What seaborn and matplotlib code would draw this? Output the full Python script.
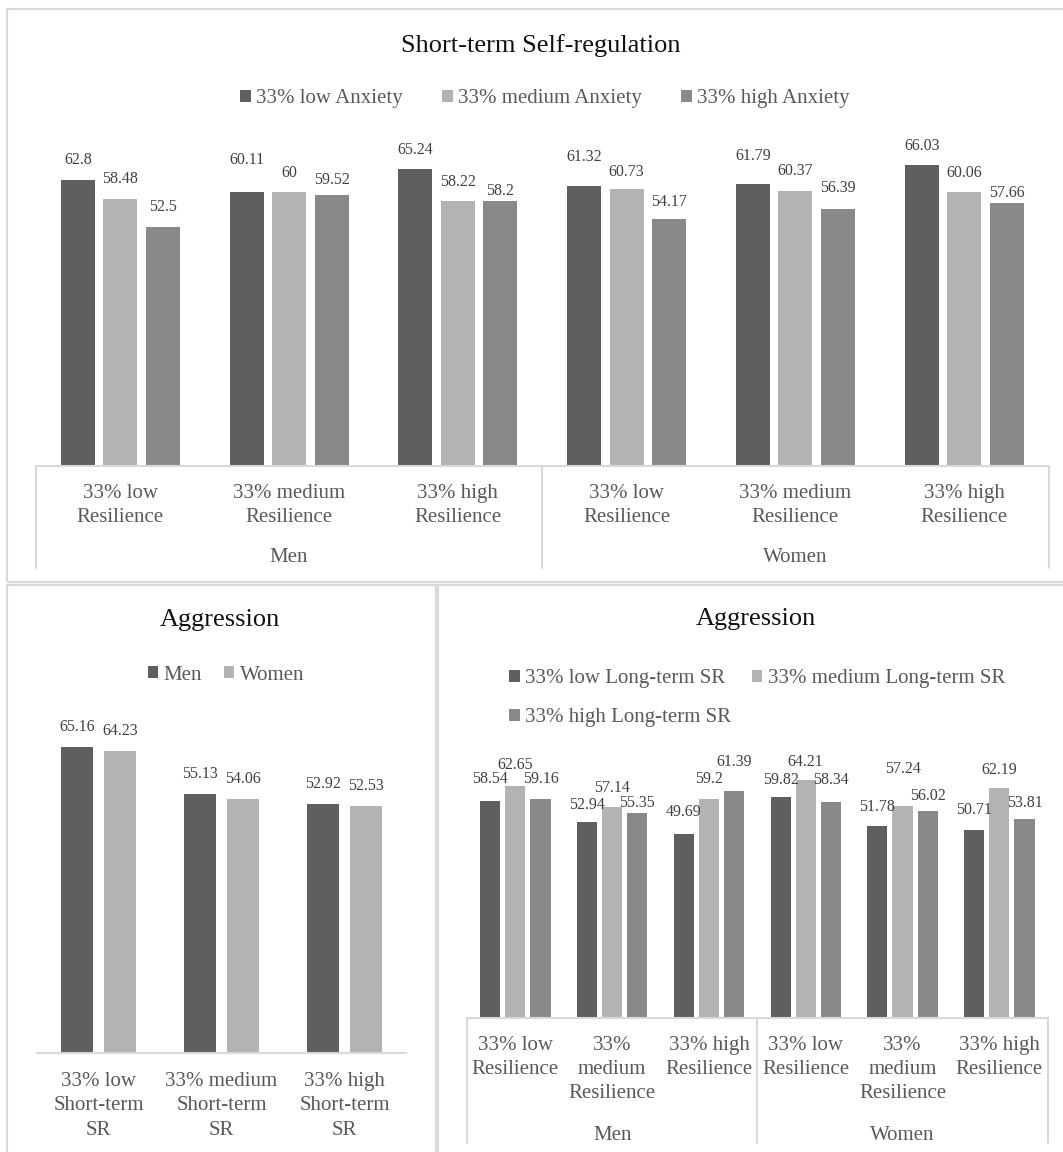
import matplotlib
matplotlib.use("Agg")
import matplotlib.pyplot as plt
from matplotlib.lines import Line2D
from matplotlib.patches import Rectangle
import pandas as pd
import seaborn as sns

# ---- data -------------------------------------------------------------
sex_groups = ["Men", "Women"]

# Short-term self-regulation by resilience and anxiety tertiles
resilience_labels = ["33% low\nResilience", "33% medium\nResilience", "33% high\nResilience"]
anxiety_levels = ["33% low Anxiety", "33% medium Anxiety", "33% high Anxiety"]
sr_low_anxiety = [62.8, 60.11, 65.24, 61.32, 61.79, 66.03]
sr_medium_anxiety = [58.48, 60, 58.22, 60.73, 60.37, 60.06]
sr_high_anxiety = [52.5, 59.52, 58.2, 54.17, 56.39, 57.66]

# Aggression by short-term SR tertile
short_sr_labels = ["33% low\nShort-term\nSR", "33% medium\nShort-term\nSR", "33% high\nShort-term\nSR"]
aggression_men = [65.16, 55.13, 52.92]
aggression_women = [64.23, 54.06, 52.53]

# Aggression by resilience and long-term SR tertiles
resilience_labels_narrow = ["33% low\nResilience", "33%\nmedium\nResilience", "33% high\nResilience"]
long_sr_levels = ["33% low Long-term SR", "33% medium Long-term SR", "33% high Long-term SR"]
ag_low_long_sr = [58.54, 52.94, 49.69, 59.82, 51.78, 50.71]
ag_medium_long_sr = [62.65, 57.14, 59.2, 64.21, 57.24, 62.19]
ag_high_long_sr = [59.16, 55.35, 61.39, 58.34, 56.02, 53.81]

# ---- style ------------------------------------------------------------
sns.set_style("white")
plt.rcParams["font.family"] = ["Liberation Serif", "DejaVu Serif"]

DARK, LIGHT, MID = "#5f5f5f", "#b3b3b3", "#898989"
GRID = "#d9d9d9"
TEXT = "#595959"
VALUE_TEXT = "#404040"
TITLE_TEXT = "#111111"
VALUE_SIZE = 11.5
TICK_LINESPACING = 1.36

# height of each value label's centre above its bar top, in pixels (one row per series)
lift_sr = [[20, 32, 18, 29, 28, 19],
           [20, 19, 18, 17, 20, 19],
           [19, 14, 10, 17, 21, 10]]
lift_short = [[20, 20, 20],
              [20, 20, 20]]
lift_long = [[22, 17, 22, 17, 19, 20],
             [21, 18, 20, 18, 37, 18],
             [20, 10, 29, 22, 15, 16]]

FIG_W, FIG_H = 1063, 1152
fig = plt.figure(figsize=(FIG_W / 100, FIG_H / 100), dpi=100)
fig.patch.set_facecolor("white")


def fx(px):
    return px / FIG_W


def fy(py):
    return 1 - py / FIG_H


def axes_px(left, right, top, bottom):
    return fig.add_axes([fx(left), fy(bottom), (right - left) / FIG_W, (bottom - top) / FIG_H])


def panel_frame(x0, y0, x1, y1):
    fig.add_artist(Rectangle((fx(x0), fy(y1)), (x1 - x0) / FIG_W, (y1 - y0) / FIG_H,
                             transform=fig.transFigure, fill=False, edgecolor=GRID,
                             linewidth=1.6, clip_on=False))


def grouped_frame(groups, cats, levels, series):
    rows = []
    for level, values in zip(levels, series):
        i = 0
        for g in groups:
            for c in cats:
                rows.append({"slot": f"{g}|{c}", "level": level, "value": values[i]})
                i += 1
    order = [f"{g}|{c}" for g in groups for c in cats]
    return pd.DataFrame(rows), order


def label_bars(ax, lifts):
    # the visual centre of a label sits ~7.9 px above its bottom anchor
    for cont, lift in zip(ax.containers, lifts):
        for bar, lp in zip(cont, lift):
            h = bar.get_height()
            ax.annotate(f"{h:g}", xy=(bar.get_x() + bar.get_width() / 2, h),
                        xytext=(0, (lp - 7.9) * 0.72), textcoords="offset points",
                        ha="center", va="bottom", fontsize=VALUE_SIZE, color=VALUE_TEXT,
                        annotation_clip=False)


def draw_bars(ax, df, order, levels, palette, width, gap, ymax, lifts):
    sns.barplot(data=df, x="slot", y="value", hue="level", order=order, hue_order=levels,
                palette=palette, width=width, gap=gap, saturation=1, errorbar=None,
                linewidth=0, ax=ax, legend=True)
    label_bars(ax, lifts)
    ax.set_xlim(-0.5, len(order) - 0.5)
    ax.set_ylim(0, ymax)
    ax.set_yticks([])
    ax.set_xlabel("")
    ax.set_ylabel("")
    for side in ("left", "top", "right"):
        ax.spines[side].set_visible(False)
    ax.spines["bottom"].set_color(GRID)
    ax.spines["bottom"].set_linewidth(1.5)
    ax.set_facecolor("none")
    old = ax.get_legend()
    handles = list(old.legend_handles)
    labels = [t.get_text() for t in old.get_texts()]
    old.remove()
    return handles, labels


def set_ticklabels(ax, labels, pad):
    ax.set_xticks(range(len(labels)))
    ax.set_xticklabels(labels, fontsize=15, color=TEXT)
    for t in ax.get_xticklabels():
        t.set_linespacing(TICK_LINESPACING)
    ax.tick_params(axis="x", length=0, pad=pad)


def group_axis(ax, ax_h, depth_px, label_px, n_per_group):
    trans = ax.get_xaxis_transform()
    for x in [-0.5 + k * n_per_group for k in range(len(sex_groups) + 1)]:
        ax.add_line(Line2D([x, x], [0, -depth_px / ax_h], transform=trans, clip_on=False,
                           color=GRID, linewidth=1.5))
    for k, g in enumerate(sex_groups):
        xc = k * n_per_group + (n_per_group - 1) / 2
        ax.text(xc, -label_px / ax_h, g, transform=trans, ha="center", va="center",
                fontsize=15, color=TEXT)


def place_legend(ax, handles, labels, x, y, loc, ncol, colsp, rowsp=0.75):
    ax.legend(handles, labels, loc=loc, bbox_to_anchor=(fx(x), fy(y)),
              bbox_transform=fig.transFigure, ncol=ncol, frameon=False, fontsize=15,
              labelcolor=TEXT, handlelength=0.5, handleheight=0.5, handletextpad=0.25,
              columnspacing=colsp, borderpad=0, labelspacing=rowsp)


# ---- panel frames -----------------------------------------------------
panel_frame(7, 9, 1075, 582)
panel_frame(7, 585, 435.5, 1170)
panel_frame(437.5, 585, 1075, 1170)

# ---- top: short-term self-regulation ---------------------------------
YMAX = 70
top_base, top_k = 466, 4.56
top_h = YMAX * top_k
ax1 = axes_px(36, 1048.5, top_base - top_h, top_base)
df1, order1 = grouped_frame(sex_groups, resilience_labels, anxiety_levels,
                            [sr_low_anxiety, sr_medium_anxiety, sr_high_anxiety])
h1, l1 = draw_bars(ax1, df1, order1, anxiety_levels, [DARK, LIGHT, MID], 0.755, 0.2, YMAX,
                   lift_sr)
set_ticklabels(ax1, resilience_labels * 2, pad=13)
group_axis(ax1, top_h, 102, 92, 3)
place_legend(ax1, h1, l1, 545, 99, "center", 3, 1.9)
fig.text(fx(541), fy(46), "Short-term Self-regulation", ha="center", va="center",
         fontsize=19, color=TITLE_TEXT)

# ---- bottom left: aggression by short-term SR -------------------------
bl_base, bl_k = 1053, 4.7
bl_h = YMAX * bl_k
ax2 = axes_px(37, 406, bl_base - bl_h, bl_base)
df2 = pd.DataFrame({
    "slot": short_sr_labels * 2,
    "level": [sex_groups[0]] * 3 + [sex_groups[1]] * 3,
    "value": aggression_men + aggression_women,
})
h2, l2 = draw_bars(ax2, df2, short_sr_labels, sex_groups, [DARK, LIGHT], 0.70, 0.26, YMAX,
                   lift_short)
set_ticklabels(ax2, short_sr_labels, pad=14)
place_legend(ax2, h2, l2, 226, 675, "center", 2, 1.05)
fig.text(fx(220), fy(620), "Aggression", ha="center", va="center",
         fontsize=19, color=TITLE_TEXT)

# ---- bottom right: aggression by resilience and long-term SR ----------
br_base, br_k = 1018, 3.7
br_h = YMAX * br_k
ax3 = axes_px(467, 1047.7, br_base - br_h, br_base)
df3, order3 = grouped_frame(sex_groups, resilience_labels_narrow, long_sr_levels,
                            [ag_low_long_sr, ag_medium_long_sr, ag_high_long_sr])
h3, l3 = draw_bars(ax3, df3, order3, long_sr_levels, [DARK, LIGHT, MID], 0.78, 0.2, YMAX,
                   lift_long)
set_ticklabels(ax3, resilience_labels_narrow * 2, pad=13)
group_axis(ax3, br_h, 125, 117, 3)
# row-major order: low, medium on the first row, high on the second
place_legend(ax3, [h3[0], h3[2], h3[1]], [l3[0], l3[2], l3[1]], 499, 659, "upper left", 2, 1.0,
             rowsp=0.95)
fig.text(fx(756), fy(619), "Aggression", ha="center", va="center",
         fontsize=19, color=TITLE_TEXT)

fig.savefig("out.png", dpi=100, facecolor="white")
